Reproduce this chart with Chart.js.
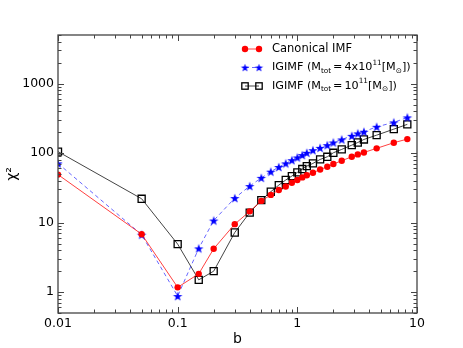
<!DOCTYPE html>
<html><head><meta charset="utf-8">
<script src="https://cdn.jsdelivr.net/npm/chart.js@4.4.1/dist/chart.umd.min.js"></script>
<style>html,body{margin:0;padding:0;background:#fff}#wrap{width:463px;height:348px}</style>
</head><body><div id="wrap"><canvas id="c" width="463" height="348"></canvas></div>
<script>
// ---- data ----
const bValues      = [0.01, 0.05, 0.1, 0.15, 0.2, 0.3, 0.4, 0.5, 0.6, 0.7, 0.8, 0.9, 1.0, 1.1, 1.2, 1.35, 1.55, 1.78, 2.0, 2.35, 2.85, 3.2, 3.6, 4.6, 6.4, 8.3];
const chiCanonical = [49, 6.8, 1.17, 1.83, 4.2, 9.5, 14.5, 20.5, 25, 29.5, 33, 37.5, 41, 44.7, 48, 52, 58, 63.5, 69.5, 77.6, 88.5, 95.7, 102, 117, 141, 159];
const chiIGIMF4e11 = [71, 6.7, 0.875, 4.25, 10.7, 22.5, 33.5, 44, 54, 63, 71, 79, 86.5, 93.5, 101, 110, 119, 130, 142, 157, 177, 192, 203, 239, 276, 326];
const chiIGIMF1e11 = [105, 22, 4.9, 1.5, 2.0, 7.2, 13.9, 21, 27.8, 34.6, 41, 46.7, 52.7, 58.9, 65, 71, 81, 88.5, 101, 113, 130, 142, 157, 181, 221, 259];
const xTickValues = [0.01, 0.1, 1, 10];
const xTickLabels = ['0.01', '0.1', '1', '10'];
const yTickValues = [1, 10, 100, 1000];
const yTickLabels = ['1', '10', '100', '1000'];
const seriesNames = ['Canonical IMF', 'IGIMF (Mtot = 4x10^11[M⊙])', 'IGIMF (Mtot = 10^11[M⊙])'];
const xTitle = 'b';
const yTitle = 'χ²';

// ---- styling helpers ----
const FONT = "'DejaVu Sans', sans-serif";
function starPath(g, cx, cy, R, r) {
  g.beginPath();
  for (let i = 0; i < 10; i++) {
    const ang = -Math.PI / 2 + i * Math.PI / 5;
    const rad = i % 2 === 0 ? R : r;
    const px = cx + rad * Math.cos(ang), py = cy + rad * Math.sin(ang);
    if (i === 0) g.moveTo(px, py); else g.lineTo(px, py);
  }
  g.closePath();
}
function makeStar(R, color) {
  const c = document.createElement('canvas');
  const s = Math.ceil(R * 2 + 2);
  c.width = c.height = s;
  const g = c.getContext('2d');
  g.fillStyle = color;
  starPath(g, s / 2, s / 2 + 0.5, R, R * 0.4);
  g.fill();
  return c;
}
const starImg = makeStar(5, '#0000ff');
const starSmall = makeStar(4.3, '#0000ff');

const pts = arr => bValues.map((b, i) => ({x: b, y: arr[i]}));

const framePlugin = {
  id: 'frame',
  afterDatasetsDraw(chart) {
    const {ctx, chartArea: a, scales: {x, y}} = chart;
    ctx.save();
    ctx.strokeStyle = '#444';
    ctx.lineWidth = 1.3;
    ctx.strokeRect(a.left, a.top, a.right - a.left, a.bottom - a.top);
    ctx.lineWidth = 1;
    ctx.beginPath();
    for (let n = -2; n <= 1; n++) {
      for (let k = 1; k <= 9; k++) {
        const v = k * Math.pow(10, n);
        if (v < x.min * 0.999 || v > x.max * 1.001) continue;
        const p = Math.round(x.getPixelForValue(v)) + 0.5;
        const len = k === 1 ? 6 : 3.5;
        ctx.moveTo(p, a.bottom); ctx.lineTo(p, a.bottom - len);
        ctx.moveTo(p, a.top); ctx.lineTo(p, a.top + len);
      }
    }
    for (let n = -1; n <= 3; n++) {
      for (let k = 1; k <= 9; k++) {
        const v = k * Math.pow(10, n);
        if (v < y.min * 0.999 || v > y.max * 1.001) continue;
        const p = Math.round(y.getPixelForValue(v)) + 0.5;
        const len = k === 1 ? 6 : 3.5;
        ctx.moveTo(a.left, p); ctx.lineTo(a.left + len, p);
        ctx.moveTo(a.right, p); ctx.lineTo(a.right - len, p);
      }
    }
    ctx.stroke();
    ctx.restore();
  }
};

function drawRich(ctx, x, y, parts, main) {
  for (const p of parts) {
    const size = p.s === 0 ? main : 7.3;
    const dy = p.s < 0 ? 3.5 : (p.s > 0 ? -4.5 : 0);
    ctx.font = size + 'px ' + FONT;
    ctx.fillText(p.t, x, y + dy);
    x += ctx.measureText(p.t).width + (p.gap || 0);
  }
}

const legendPlugin = {
  id: 'customLegend',
  afterDraw(chart) {
    const ctx = chart.ctx;
    const x1 = 245, x2 = 259, tx = 272;
    const rows = [49, 67.5, 86];
    ctx.save();
    // row 1
    let yy = rows[0];
    ctx.strokeStyle = 'rgba(255,0,0,0.75)'; ctx.lineWidth = 1;
    ctx.beginPath(); ctx.moveTo(x1, yy); ctx.lineTo(x2, yy); ctx.stroke();
    ctx.fillStyle = '#ff0000';
    for (const xx of [x1, x2]) { ctx.beginPath(); ctx.arc(xx, yy, 3.2, 0, Math.PI * 2); ctx.fill(); }
    // row 2
    yy = rows[1];
    ctx.strokeStyle = 'rgba(0,0,255,0.6)'; ctx.setLineDash([4, 3]);
    ctx.beginPath(); ctx.moveTo(x1, yy); ctx.lineTo(x2, yy); ctx.stroke();
    ctx.setLineDash([]);
    for (const xx of [x1, x2]) ctx.drawImage(starSmall, xx - starSmall.width / 2, yy - starSmall.height / 2);
    // row 3
    yy = rows[2];
    ctx.strokeStyle = '#444';
    ctx.beginPath(); ctx.moveTo(x1, yy); ctx.lineTo(x2, yy); ctx.stroke();
    ctx.strokeStyle = '#000'; ctx.lineWidth = 1.3;
    for (const xx of [x1, x2]) ctx.strokeRect(xx - 3.2, yy - 3.2, 6.4, 6.4);
    // texts
    ctx.fillStyle = '#000';
    ctx.textBaseline = 'middle';
    ctx.textAlign = 'left';
    drawRich(ctx, tx, rows[0], [{t: seriesNames[0], s: 0}], 11.5);
    drawRich(ctx, tx, rows[1], [{t: 'IGIMF (M', s: 0}, {t: 'tot', s: -1, gap: 2}, {t: '=', s: 0, gap: 2}, {t: '4x10', s: 0}, {t: '11', s: 1}, {t: '[M', s: 0}, {t: '⊙', s: -1}, {t: '])', s: 0}], 11.2);
    drawRich(ctx, tx, rows[2], [{t: 'IGIMF (M', s: 0}, {t: 'tot', s: -1, gap: 2}, {t: '=', s: 0, gap: 2}, {t: '10', s: 0}, {t: '11', s: 1}, {t: '[M', s: 0}, {t: '⊙', s: -1}, {t: '])', s: 0}], 11.2);
    ctx.restore();
  }
};

new Chart(document.getElementById('c'), {
  type: 'scatter',
  data: {
    datasets: [
      {label: seriesNames[0], data: pts(chiCanonical), showLine: true, borderColor: 'rgba(255,0,0,0.75)', borderWidth: 1,
       pointStyle: 'circle', pointRadius: 3.2, pointBackgroundColor: '#ff0000', pointBorderWidth: 0, clip: 0},
      {label: seriesNames[1], data: pts(chiIGIMF4e11), showLine: true, borderColor: 'rgba(0,0,255,0.6)', borderWidth: 1, borderDash: [4, 3],
       pointStyle: starImg, pointRadius: 5, clip: 0},
      {label: seriesNames[2], data: pts(chiIGIMF1e11), showLine: true, borderColor: '#444', borderWidth: 1,
       pointStyle: 'rect', pointRadius: 5, pointBackgroundColor: 'rgba(0,0,0,0)', pointBorderColor: '#000', pointBorderWidth: 1.3, clip: 0}
    ]
  },
  options: {
    responsive: false,
    animation: false,
    devicePixelRatio: 1,
    layout: {padding: {left: 0, right: 46, top: 35, bottom: 0}},
    plugins: {legend: {display: false}, tooltip: {enabled: false}},
    scales: {
      x: {
        type: 'logarithmic', min: 0.01, max: 10, position: 'bottom',
        grid: {display: false, drawTicks: false},
        border: {display: false},
        afterBuildTicks: s => { s.ticks = xTickValues.map(v => ({value: v})); },
        afterFit: s => { s.height = 35; },
        ticks: {autoSkip: false, maxRotation: 0, padding: 3, color: '#000', font: {family: FONT, size: 12.5},
                callback: (v, i) => xTickLabels[i]},
        title: {display: true, text: xTitle, color: '#000', font: {family: FONT, size: 14}, padding: {top: 0, bottom: 0}}
      },
      y: {
        type: 'logarithmic', min: 0.5, max: 5000,
        grid: {display: false, drawTicks: false},
        border: {display: false},
        afterBuildTicks: s => { s.ticks = yTickValues.map(v => ({value: v})); },
        afterFit: s => { s.width = 58; },
        ticks: {autoSkip: false, padding: 4, color: '#000', font: {family: FONT, size: 12.5},
                callback: (v, i) => yTickLabels[i]},
        title: {display: true, text: yTitle, color: '#000', font: {family: FONT, size: 14}, padding: {top: 4, bottom: 0}}
      }
    }
  },
  plugins: [framePlugin, legendPlugin]
});
</script>
</body></html>
